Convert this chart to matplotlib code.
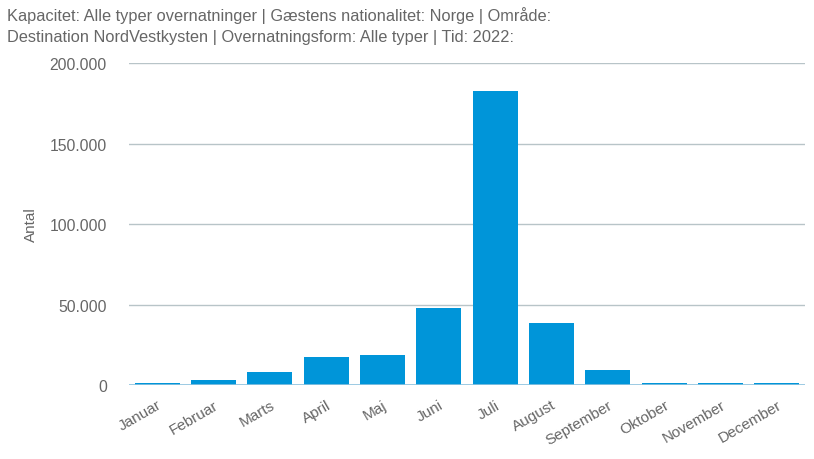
import matplotlib
matplotlib.use("Agg")
import matplotlib.pyplot as plt
from matplotlib.ticker import FuncFormatter

months = ["Januar", "Februar", "Marts", "April", "Maj", "Juni", "Juli",
          "August", "September", "Oktober", "November", "December"]
values = [1500, 3000, 8000, 17500, 18500, 47800, 182400, 38300, 9500, 1500, 1500, 1500]
yticks = [0, 50000, 100000, 150000, 200000]

title = ("Kapacitet: Alle typer overnatninger | Gæstens nationalitet: Norge | Område:\n"
         "Destination NordVestkysten | Overnatningsform: Alle typer | Tid: 2022:")

plt.rcParams['font.family'] = ['Liberation Sans', 'DejaVu Sans']
text_col = "#666666"

fig = plt.figure(figsize=(8.14, 4.6), dpi=100)
ax = fig.add_axes([129 / 814, 1 - 386 / 460, (805 - 129) / 814, (386 - 64) / 460])

x = list(range(len(months)))
ax.bar(x, values, width=0.8, color="#0095d9", zorder=3)

ax.set_xlim(-0.5, len(months) - 0.5)
ax.set_ylim(0, 200000)
ax.set_yticks(yticks)
ax.yaxis.set_major_formatter(FuncFormatter(lambda v, p: f"{int(v):,}".replace(",", ".")))
ax.grid(axis="y", color="#b8c4c8", linewidth=1, zorder=0)
ax.axhline(0, color="#8ec3e0", linewidth=1.2, zorder=4)

for s in ax.spines.values():
    s.set_visible(False)
ax.tick_params(axis="y", length=0, pad=16, labelsize=11.3, labelcolor=text_col)
ax.tick_params(axis="x", length=0, pad=9, labelsize=11, labelcolor=text_col)
ax.set_xticks(x)
ax.set_xticklabels(months, rotation=30, ha="right", rotation_mode="anchor")

ax.set_ylabel("Antal", fontsize=11, color=text_col, labelpad=8)

fig.text(7 / 814, 1 - 7 / 460, title, ha="left", va="top", fontsize=11.8,
         color=text_col, linespacing=1.5)

fig.savefig("out.png", dpi=100)
